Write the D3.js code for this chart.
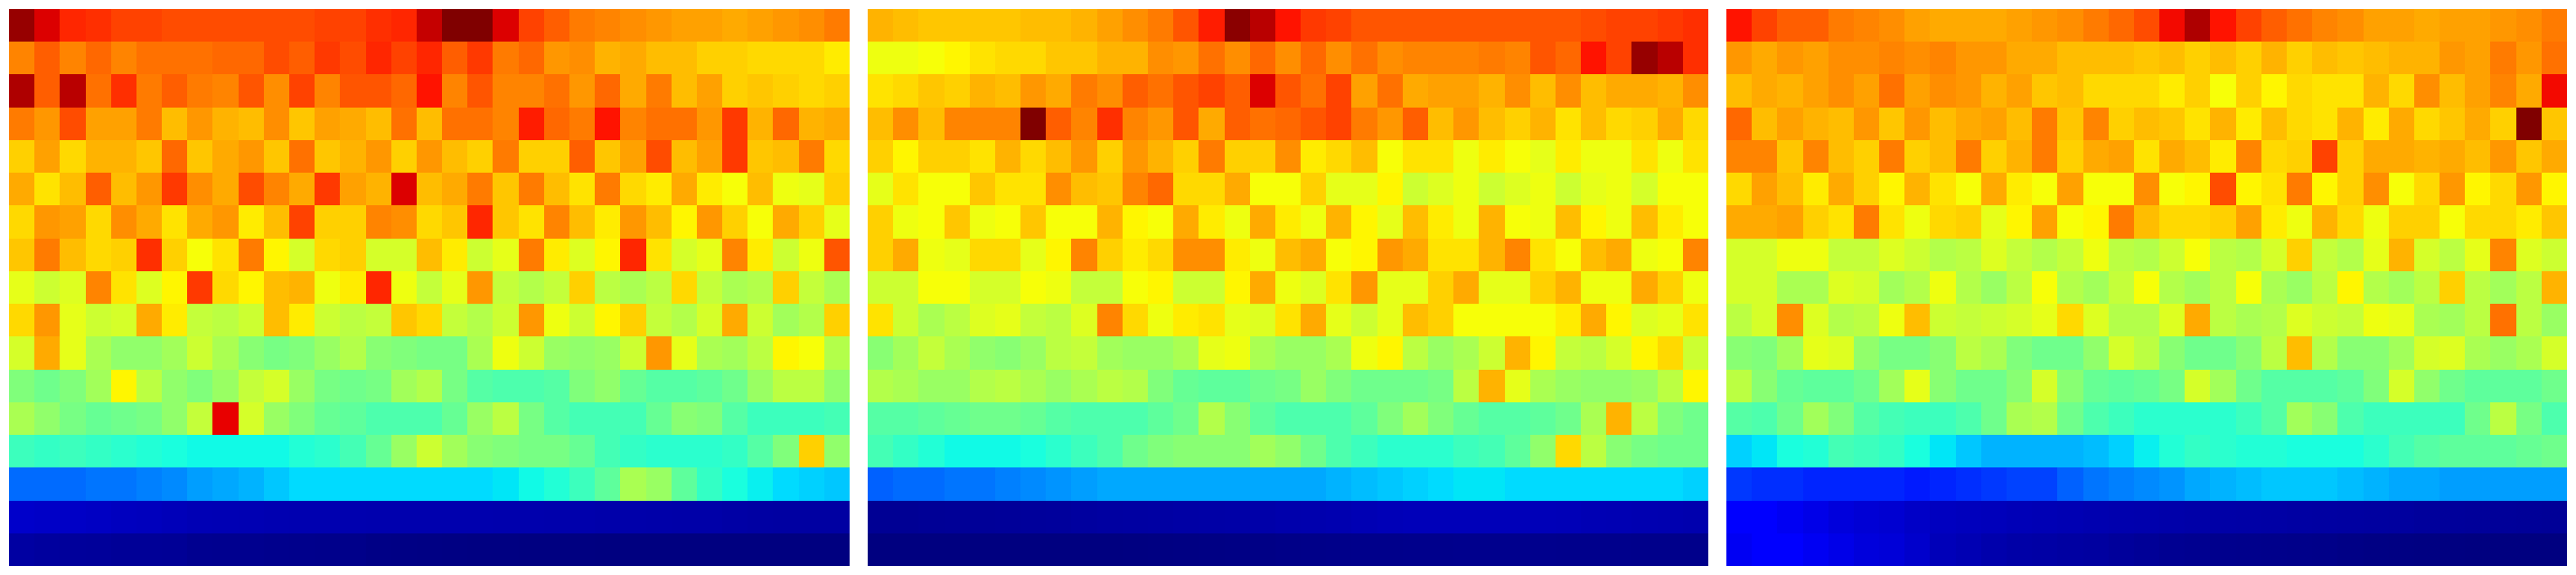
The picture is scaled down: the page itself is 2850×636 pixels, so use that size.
<!DOCTYPE html>
<html><head><meta charset="utf-8">
<script src="https://cdn.jsdelivr.net/npm/d3@7"></script>
<style>html,body{margin:0;padding:0;background:#fff;overflow:hidden}svg{display:block}</style>
</head><body><div id="chart"></div>
<script>
const panelA = [
[98,92,87,86,84,84,83,83,83,83,83,83,84,84,86,87,94,100,100,92,84,81,78,77,76,75,74,74,73,74,75,76,78],
[77,81,77,80,77,79,79,79,80,80,83,81,85,83,87,84,87,81,85,78,80,75,76,72,73,71,71,69,69,68,68,68,66],
[96,81,95,79,86,78,81,78,77,82,76,84,77,82,82,80,89,77,82,77,77,79,75,80,73,78,71,74,69,70,69,68,69],
[78,75,83,74,74,78,71,75,72,71,76,70,74,73,71,79,71,79,79,77,88,80,78,89,77,79,79,75,85,72,80,72,73],
[69,74,68,72,72,70,80,70,73,75,70,79,70,72,75,69,75,71,69,78,69,69,81,70,74,83,71,74,85,70,71,78,68],
[73,67,71,81,71,75,85,76,73,83,77,73,85,74,72,92,71,73,78,70,78,71,67,78,68,66,73,66,64,71,63,62,69],
[68,75,74,68,76,73,67,73,75,66,71,84,69,69,77,76,68,70,87,70,67,77,71,66,75,71,65,75,69,64,73,69,62],
[70,78,71,68,69,86,69,64,67,78,65,60,68,69,60,60,71,66,59,62,78,66,61,65,87,67,60,62,77,66,59,63,82],
[62,59,61,77,67,61,65,85,68,65,71,72,63,66,87,63,58,62,75,58,56,58,69,57,55,57,68,58,55,56,69,58,55],
[68,75,62,59,60,73,66,58,57,59,71,66,59,57,58,70,68,58,56,59,75,63,59,65,69,58,56,60,73,59,54,56,69],
[60,73,62,55,52,52,54,59,55,51,49,50,53,56,51,50,49,49,55,63,59,53,52,53,59,75,62,55,54,57,65,64,56],
[50,48,50,54,65,57,52,50,53,58,60,53,49,48,49,54,56,49,45,44,44,45,50,52,47,45,45,46,48,53,57,57,52],
[55,52,49,47,48,49,52,58,91,60,53,50,47,46,44,44,44,47,53,57,49,45,43,43,43,47,51,50,45,42,42,42,43],
[42,41,42,41,40,39,38,37,37,37,37,39,40,43,47,53,59,54,51,50,49,49,47,43,41,40,40,40,41,45,50,69,52],
[23,23,23,24,24,25,26,28,29,30,32,34,34,34,34,34,34,34,34,35,37,39,42,46,55,53,46,41,38,36,34,33,32],
[6.4,6.2,6.1,5.8,5.5,5.3,5,4.6,4.5,4.4,4.3,4.2,4.2,4.1,4,4,4,4,4,3.9,3.9,3.8,3.8,3.7,3.7,3.6,3.5,3.5,3.2,3.1,3,3,3],
[3,2.6,2.4,2.3,2,2,1.9,1.4,1.3,1.3,1.2,1.1,1,0.9,0.6,0.5,0.4,0.3,0.2,0.2,0.1,0.1,0.1,0,0,0,0,0,0,0,0,0,0]
];
const panelB = [
[72,71,70,70,70,70,71,71,72,74,76,78,82,88,99,95,89,85,84,82,82,82,82,82,82,82,82,82,83,84,84,85,86],
[63,63,64,65,67,68,68,70,70,72,72,76,75,79,76,80,76,80,76,79,76,77,77,77,78,77,82,80,89,84,98,95,86],
[67,68,70,69,72,71,75,73,78,76,81,79,82,84,81,92,82,79,84,74,79,73,74,74,72,76,71,76,71,73,73,72,76],
[71,76,71,77,77,77,100,81,77,86,77,75,82,73,81,79,80,82,84,78,75,81,71,75,71,69,72,67,71,68,69,73,68],
[69,65,69,69,67,72,68,71,75,69,75,72,69,78,69,69,76,66,68,71,64,67,67,63,66,64,62,66,63,63,67,63,67],
[62,67,64,64,70,67,67,76,71,70,77,80,68,68,73,64,64,69,62,62,65,59,61,63,59,61,63,59,62,63,60,64,64],
[69,63,64,70,63,64,70,64,64,72,65,64,73,66,63,73,66,63,72,65,62,71,66,63,72,64,63,71,65,63,71,66,64],
[69,73,63,62,68,68,62,65,77,69,66,68,76,76,66,63,71,73,64,65,75,73,67,67,72,77,67,64,71,73,63,64,77],
[59,59,64,64,60,60,64,63,58,58,64,65,59,59,65,73,63,61,67,75,62,62,69,73,62,62,69,72,63,63,73,69,63],
[67,59,55,57,61,62,58,57,61,77,68,63,66,67,62,61,67,73,62,59,62,71,69,64,64,64,64,66,73,65,61,62,67],
[51,54,58,55,52,51,53,57,58,54,53,53,55,62,63,55,53,53,55,63,65,57,53,55,59,72,65,58,57,60,65,68,59],
[56,55,53,53,56,57,55,53,55,57,56,50,47,46,46,48,49,53,50,48,48,48,49,57,72,62,55,53,52,52,53,57,65],
[45,45,46,47,48,48,47,45,44,44,44,46,48,56,51,46,44,44,44,46,50,54,50,47,45,45,46,48,55,72,57,50,48],
[43,41,39,37,37,37,38,40,42,44,48,50,51,51,51,54,52,48,44,42,40,40,40,42,43,46,52,68,57,51,49,48,48],
[22,23,23,24,24,25,26,27,28,29,29,29,29,29,29,29,29,29,30,31,32,33,34,35,35,34,34,34,34,34,34,34,33],
[1.8,1.8,1.9,2,2.1,2.2,2.4,2.5,2.7,2.9,3,3.1,3.2,3.3,3.4,3.6,3.8,4,4.2,4.5,4.8,5,5,5,5,5,4.9,4.8,4.5,4.4,4.3,4.2,4],
[0,0,0,0,0,0,0,0,0,0,0.1,0.2,0.3,0.4,0.5,0.6,0.7,0.8,0.9,1,1,1.1,1.1,1.2,1.2,1.2,1.2,1.1,1.1,1.1,1,1,1]
];
const panelC = [
[89,84,81,81,78,77,76,74,73,73,73,74,75,76,78,80,83,90,96,89,84,81,79,77,76,74,74,73,74,74,75,76,78],
[75,73,75,74,76,76,77,76,77,75,75,73,73,71,71,71,70,71,69,71,69,72,69,71,70,71,72,72,75,74,78,75,79],
[71,73,72,74,76,74,79,74,76,75,72,74,70,71,68,68,68,66,69,64,69,65,68,67,67,72,68,76,71,74,77,73,90],
[80,71,74,72,71,75,70,75,71,73,74,71,78,70,77,69,71,70,67,72,66,71,68,67,72,66,73,68,70,73,69,100,70],
[77,77,70,77,71,69,78,69,71,78,69,72,78,69,73,74,67,73,71,66,77,68,69,84,69,73,73,72,73,71,75,70,73],
[68,74,71,66,73,69,65,72,67,64,73,66,64,74,64,64,76,64,65,83,65,67,78,65,69,76,64,68,75,65,68,75,65],
[73,73,74,69,67,78,67,63,68,69,62,65,74,64,65,78,71,68,68,69,74,66,63,72,68,63,69,69,64,68,68,66,70],
[60,60,63,63,58,58,61,59,56,57,61,58,56,58,63,57,56,59,64,57,56,60,69,58,56,62,72,60,57,62,77,61,59],
[60,60,55,55,61,60,54,56,63,56,53,57,64,56,54,58,64,56,54,57,64,55,53,57,65,56,54,57,69,57,54,57,72],
[57,60,76,61,56,57,63,71,59,58,59,60,62,68,61,56,56,61,73,57,55,56,61,59,58,63,62,55,54,57,79,57,53],
[51,50,54,62,61,52,49,49,51,57,55,50,48,48,52,60,57,51,48,48,51,57,71,56,51,51,54,60,61,55,53,55,60],
[57,51,47,46,46,48,54,62,51,48,48,51,60,51,47,46,47,49,60,54,48,45,45,45,46,50,60,52,48,46,46,46,48],
[45,44,48,54,50,45,43,42,42,44,48,55,56,48,44,42,40,40,40,40,42,45,54,51,44,42,42,42,42,48,57,49,44],
[33,35,38,39,43,42,41,38,35,32,30,30,30,30,31,33,36,39,41,40,39,39,38,38,38,40,43,45,46,46,46,47,48],
[18,17,17,16,16,16,16,15,16,17,18,19,19,22,24,25,26,27,29,30,31,32,32,32,31,30,29,29,28,28,28,28,28],
[11,11,10,9,8,7.4,7,6.2,5.6,5.3,5.1,4.8,4.6,4.4,4.2,4,3.9,3.7,3.5,3.4,3.3,3.2,3.1,3,2.9,2.8,2.7,2.5,2.4,2.3,2.2,2.1,2],
[10,11,11,10,9,8,7.6,6.6,5,4.4,3.8,3.4,3.2,3,2.8,2.4,2,1.6,1.4,1.2,1.1,1,0.9,0.8,0.6,0.4,0.3,0.2,0.1,0,0,0,0]
];
const panels = [panelA, panelB, panelC];

const W = 2850, H = 636, panelW = 930, gap = 20, plotTop = 10, plotBottom = 626;

// jet colour map
const rC = d3.scaleLinear().domain([0,35,65,89,100]).range([0,0,1,1,.5]).clamp(true);
const gC = d3.scaleLinear().domain([0,12.5,37.5,64,91,100]).range([0,0,1,1,0,0]).clamp(true);
const bC = d3.scaleLinear().domain([0,11,34,65,100]).range([.5,1,1,0,0]).clamp(true);
const jet = v => d3.rgb(255*rC(v), 255*gC(v), 255*bC(v)).formatHex();

const svg = d3.select('#chart').append('svg').attr('width', W).attr('height', H);
panels.forEach((rows, p) => {
  const x0 = 10 + p * (panelW + gap);
  const x = d3.scaleBand().domain(d3.range(rows[0].length)).range([x0, x0 + panelW]);
  const y = d3.scaleBand().domain(d3.range(rows.length)).range([plotTop, plotBottom]);
  const g = svg.append('g').attr('shape-rendering', 'crispEdges');
  rows.forEach((row, r) => {
    g.selectAll('rect.r' + r).data(row).join('rect').attr('class', 'r' + r)
      .attr('x', (d, i) => x(i)).attr('y', y(r))
      .attr('width', x.bandwidth()).attr('height', y.bandwidth())
      .attr('fill', d => jet(d));
  });
});
</script></body></html>
